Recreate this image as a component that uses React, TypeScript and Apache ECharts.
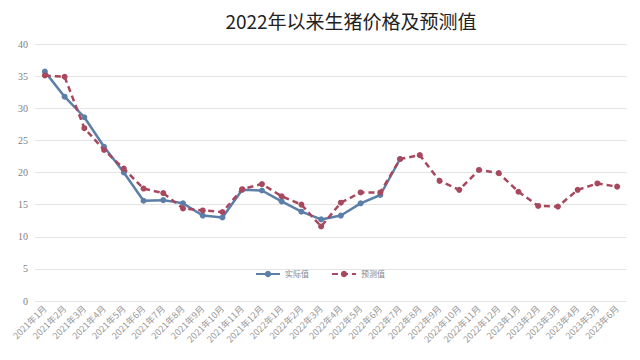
import React, { useEffect, useRef } from "react";
import * as echarts from "echarts";

const categories = [
  "2021年1月", "2021年2月", "2021年3月", "2021年4月", "2021年5月", "2021年6月",
  "2021年7月", "2021年8月", "2021年9月", "2021年10月", "2021年11月", "2021年12月",
  "2022年1月", "2022年2月", "2022年3月", "2022年4月", "2022年5月", "2022年6月",
  "2022年7月", "2022年8月", "2022年9月", "2022年10月", "2022年11月", "2022年12月",
  "2023年1月", "2023年2月", "2023年3月", "2023年4月", "2023年5月", "2023年6月",
];

const actual: (number | null)[] = [
  35.7, 31.8, 28.6, 24.0, 20.0, 15.6, 15.7, 15.2, 13.3, 13.0, 17.3, 17.2,
  15.5, 13.9, 12.7, 13.3, 15.2, 16.5, 22.1, null, null, null, null, null,
  null, null, null, null, null, null,
];

const predicted = [
  35.1, 34.9, 26.9, 23.5, 20.6, 17.5, 16.8, 14.4, 14.1, 13.85, 17.4, 18.2,
  16.3, 15.0, 11.6, 15.3, 16.9, 16.9, 22.1, 22.7, 18.7, 17.3, 20.4, 19.9,
  17.0, 14.8, 14.7, 17.3, 18.3, 17.8,
];

const BLUE = "#5b7fa8";
const RED = "#a8485e";

export default function App() {
  const ref = useRef<HTMLDivElement>(null);
  useEffect(() => {
    if (!ref.current) return;
    const chart = echarts.init(ref.current, undefined, { renderer: "svg" });
    chart.setOption({
      animation: false,
      backgroundColor: "#ffffff",
      title: {
        text: "2022年以来生猪价格及预测值",
        left: 346,
        top: 6,
        textAlign: "center",
        textStyle: {
          fontFamily: "Noto Sans CJK SC",
          fontSize: 19,
          fontWeight: "normal",
          color: "#222",
        },
      },
      legend: {
        data: ["实际值", "预测值"],
        left: "center",
        top: 265,
        itemWidth: 24,
        itemHeight: 8,
        itemGap: 22,
        textStyle: { fontFamily: "Noto Sans CJK SC", fontSize: 8, color: "#888" },
      },
      grid: { left: 35, right: 13, top: 44, bottom: 59 },
      xAxis: {
        type: "category",
        data: categories,
        boundaryGap: true,
        axisLine: { show: false },
        axisTick: { show: false },
        axisLabel: {
          rotate: 45,
          interval: 0,
          fontSize: 9,
          color: "#999",
          margin: 6,
          fontFamily: "Noto Sans CJK SC",
        },
      },
      yAxis: {
        type: "value",
        min: 0,
        max: 40,
        interval: 5,
        axisLine: { show: false },
        axisTick: { show: false },
        axisLabel: {
          fontSize: 10,
          color: "#808080",
          margin: 7,
          fontFamily: "Liberation Serif",
        },
        splitLine: { lineStyle: { color: "#e4e4e4", width: 1 } },
      },
      series: [
        {
          name: "实际值",
          type: "line",
          data: actual,
          symbol: "circle",
          symbolSize: 6,
          itemStyle: { color: BLUE },
          lineStyle: { color: BLUE, width: 2.5 },
          z: 2,
        },
        {
          name: "预测值",
          type: "line",
          data: predicted,
          symbol: "circle",
          symbolSize: 6,
          itemStyle: { color: RED },
          lineStyle: { color: RED, width: 2.5, type: [6, 4] },
          z: 3,
        },
      ],
    });
    return () => chart.dispose();
  }, []);
  return <div ref={ref} style={{ width: 640, height: 360, position: "absolute", left: 0, top: 0 }} />;
}
